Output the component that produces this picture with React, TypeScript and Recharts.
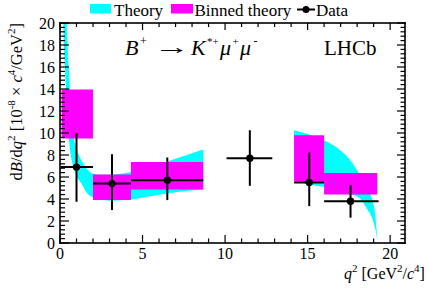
import { Area, ComposedChart, ErrorBar, Scatter, XAxis, YAxis } from "recharts";

// theory band, low q2 region
const lowQ = [0.1, 0.2, 0.3, 0.4, 0.55, 0.7, 0.87, 1.0, 1.3, 1.6, 2.0, 2.5, 3.0, 3.5, 4.3, 5.5, 6.5, 7.5, 8.68];
const lowMin = [30, 20, 16, 12.5, 9.3, 7.6, 6.6, 6.1, 5.4, 4.6, 4.15, 3.95, 3.85, 3.87, 3.96, 4.25, 4.5, 4.7, 4.87];
const lowMax = [50, 32, 24, 20, 15.5, 12, 9.3, 8.6, 7.5, 6.8, 6.3, 6.2, 6.2, 6.25, 6.45, 6.9, 7.4, 7.9, 8.5];

// theory band, high q2 region
const highQ = [14.18, 15, 16, 17, 17.7, 18.2, 18.6, 18.9, 19.1, 19.22];
const highMin = [5.7, 5.35, 5.1, 4.8, 4.4, 4.0, 3.1, 2.3, 1.3, 0.3];
const highMax = [10.25, 9.9, 9.34, 8.4, 7.3, 6.1, 5.0, 4.0, 2.5, 0.35];

// binned theory
const binEdgesLow = [0.1, 2.0, 4.3, 8.68];
const binLoLow = [9.5, 3.9, 4.87];
const binHiLow = [13.95, 6.22, 7.36];
const binEdgesHigh = [14.18, 16.0, 19.22];
const binLoHigh = [5.6, 4.4];
const binHiHigh = [9.8, 6.37];

// data points
const dataQ = [1.0, 3.15, 6.5, 11.5, 15.1, 17.6];
const dataY = [6.9, 5.4, 5.7, 7.7, 5.5, 3.8];
const dataQLo = [0.05, 2.0, 4.3, 10.09, 14.18, 16.0];
const dataQHi = [2.0, 4.3, 8.68, 12.86, 16.0, 19.3];
const dataYLo = [3.75, 3.0, 3.9, 5.2, 3.35, 2.3];
const dataYHi = [10.0, 8.07, 7.77, 10.25, 8.22, 5.26];

const xMajor = [0, 5, 10, 15, 20];
const yMajor = [0, 2, 4, 6, 8, 10, 12, 14, 16, 18, 20];
const xMinor = Array.from({ length: 21 }, (_, i) => i);
const yMinor = Array.from({ length: 51 }, (_, i) => Math.round(i * 4) / 10);

const X_DOMAIN: [number, number] = [0, 20.9];
const Y_DOMAIN: [number, number] = [0, 20];
const FONT = "'Liberation Serif', 'DejaVu Serif', serif";
const CYAN = "#00ffff";
const MAGENTA = "#ff00ff";

const W = 427;
const H = 290;
const MARGIN = { top: 23, right: 22, left: 0, bottom: 17 };
const Y_W = 60;
const X_H = 30;
const PLOT_L = MARGIN.left + Y_W;
const PLOT_T = MARGIN.top;
const PLOT_W = W - MARGIN.left - MARGIN.right - Y_W;
const PLOT_H = H - MARGIN.top - MARGIN.bottom - X_H;

// same linear mapping the axes use, for the frame's tick marks
const sx = (v: number) => PLOT_L + ((v - X_DOMAIN[0]) / (X_DOMAIN[1] - X_DOMAIN[0])) * PLOT_W;
const sy = (v: number) => PLOT_T + ((Y_DOMAIN[1] - v) / (Y_DOMAIN[1] - Y_DOMAIN[0])) * PLOT_H;

const band = (q: number[], lo: number[], hi: number[]) =>
  q.map((v, i) => ({ q: v, r: [lo[i], hi[i]] }));

const bins = (edges: number[], lo: number[], hi: number[]) =>
  edges.map((v, i) => {
    const k = Math.min(i, lo.length - 1);
    return { q: v, r: [lo[k], hi[k]] };
  });

const bandLow = band(lowQ, lowMin, lowMax);
const bandHigh = band(highQ, highMin, highMax);
const binsLow = bins(binEdgesLow, binLoLow, binHiLow);
const binsHigh = bins(binEdgesHigh, binLoHigh, binHiHigh);

const points = dataQ.map((q, i) => ({
  q,
  y: dataY[i],
  ex: [q - dataQLo[i], dataQHi[i] - q],
  ey: [dataY[i] - dataYLo[i], dataYHi[i] - dataY[i]],
}));

const tickText = { fontSize: 16, fill: "#000", fontFamily: FONT };
const isMajor = (v: number, list: number[]) => list.some((m) => Math.abs(m - v) < 1e-6);

function Dot(props: any) {
  return <circle cx={props.cx} cy={props.cy} r={3.7} fill="#000" />;
}

// frame + ticks drawn as filled rectangles
function Frame() {
  const bottom = PLOT_T + PLOT_H;
  const right = PLOT_L + PLOT_W;
  const bw = 1.6;
  return (
    <svg width={W} height={H} style={{ position: "absolute", left: 0, top: 0, pointerEvents: "none" }}>
      <g fill="#000">
        <rect x={PLOT_L - bw / 2} y={PLOT_T - bw / 2} width={PLOT_W + bw} height={bw} />
        <rect x={PLOT_L - bw / 2} y={bottom - bw / 2} width={PLOT_W + bw} height={bw} />
        <rect x={PLOT_L - bw / 2} y={PLOT_T - bw / 2} width={bw} height={PLOT_H + bw} />
        <rect x={right - bw / 2} y={PLOT_T - bw / 2} width={bw} height={PLOT_H + bw} />
        {xMinor.map((v) => {
          const m = isMajor(v, xMajor);
          const x = sx(v) - 0.6;
          const lb = m ? 8 : 4.5;
          const lt = m ? 7 : 4;
          return (
            <g key={"x" + v}>
              <rect x={x} y={bottom - lb} width={1.2} height={lb} />
              <rect x={x} y={PLOT_T} width={1.2} height={lt} />
            </g>
          );
        })}
        {yMinor.map((v) => {
          const m = isMajor(v, yMajor);
          const y = sy(v) - 0.6;
          const ll = m ? 9 : 5;
          const lr = m ? 8 : 4.5;
          return (
            <g key={"y" + v}>
              <rect x={PLOT_L} y={y} width={ll} height={1.2} />
              <rect x={right - lr} y={y} width={lr} height={1.2} />
            </g>
          );
        })}
      </g>
    </svg>
  );
}

function Texts() {
  const sup = (t: string) => (
    <tspan fontSize={11} dy={-7}>
      {t}
    </tspan>
  );
  return (
    <svg
      width={W}
      height={H}
      style={{ position: "absolute", left: 0, top: 0, pointerEvents: "none" }}
      fontFamily={FONT}
    >
      {/* legend */}
      <rect x={90} y={4} width={21} height={9.5} fill={CYAN} />
      <text x={114} y={16} fontSize={17}>Theory</text>
      <rect x={171} y={4} width={22} height={9.5} fill={MAGENTA} />
      <text x={194.5} y={16} fontSize={17}>Binned theory</text>
      <rect x={297} y={8.5} width={18} height={2} fill="#000" />
      <circle cx={306} cy={9.5} r={3.5} fill="#000" />
      <text x={316} y={16} fontSize={17}>Data</text>

      {/* decay */}
      <g fontSize={22}>
        <text x={125} y={55} fontStyle="italic">B</text>
        <text x={140} y={45} fontSize={12}>+</text>
        <text x={157} y={54} textLength={30} lengthAdjust="spacingAndGlyphs"
          transform="translate(172.5,0) scale(1.2,1) translate(-172.5,0)">→</text>
        <text x={191} y={55} fontStyle="italic">K</text>
        <text x={207} y={45} fontSize={11}>*+</text>
        <text x={220} y={55} fontStyle="italic">μ</text>
        <text x={232.5} y={45} fontSize={11}>+</text>
        <text x={240} y={55} fontStyle="italic">μ</text>
        <text x={253.5} y={45} fontSize={12}>-</text>
      </g>
      <text x={324} y={55} fontSize={21}>LHCb</text>

      {/* y title */}
      <text transform="translate(22,23) rotate(-90)" textAnchor="end" fontSize={16.5}>
        d<tspan fontStyle="italic">B</tspan>/d<tspan fontStyle="italic">q</tspan>
        {sup("2")}
        <tspan dy={7}> [10</tspan>
        {sup("-8")}
        <tspan dy={7}> × </tspan>
        <tspan fontStyle="italic">c</tspan>
        {sup("4")}
        <tspan dy={7}>/GeV</tspan>
        {sup("2")}
        <tspan dy={7}>]</tspan>
      </text>

      {/* x title */}
      <text x={344} y={279} fontSize={16}>
        <tspan fontStyle="italic">q</tspan>
        {sup("2")}
        <tspan dy={7}> [GeV</tspan>
        {sup("2")}
        <tspan dy={7}>/</tspan>
        <tspan fontStyle="italic">c</tspan>
        {sup("4")}
        <tspan dy={7}>]</tspan>
      </text>
    </svg>
  );
}

export default function App() {
  return (
    <div style={{ position: "relative", width: W, height: H }}>
      <style>{"body{margin:0}"}</style>
      <Texts />
      <div style={{ position: "absolute", left: 0, top: 0 }}>
        <ComposedChart width={W} height={H} margin={MARGIN}>
          <XAxis
            xAxisId="x"
            dataKey="q"
            type="number"
            domain={X_DOMAIN}
            allowDataOverflow
            ticks={xMajor}
            interval={0}
            height={X_H}
            tickSize={0}
            tickMargin={5}
            tickLine={false}
            axisLine={false}
            tick={tickText}
          />
          <YAxis
            yAxisId="y"
            dataKey="y"
            type="number"
            domain={Y_DOMAIN}
            allowDataOverflow
            ticks={yMajor}
            interval={0}
            width={Y_W}
            tickSize={0}
            tickMargin={5}
            tickLine={false}
            axisLine={false}
            tick={tickText}
          />

          <Area xAxisId="x" yAxisId="y" data={bandLow} dataKey="r" type="monotone" stroke="none"
            fill={CYAN} fillOpacity={1} isAnimationActive={false} />
          <Area xAxisId="x" yAxisId="y" data={bandHigh} dataKey="r" type="monotone" stroke="none"
            fill={CYAN} fillOpacity={1} isAnimationActive={false} />
          <Area xAxisId="x" yAxisId="y" data={binsLow} dataKey="r" type="stepAfter" stroke="none"
            fill={MAGENTA} fillOpacity={1} isAnimationActive={false} />
          <Area xAxisId="x" yAxisId="y" data={binsHigh} dataKey="r" type="stepAfter" stroke="none"
            fill={MAGENTA} fillOpacity={1} isAnimationActive={false} />

          <Scatter xAxisId="x" yAxisId="y" data={points} shape={Dot} isAnimationActive={false}>
            <ErrorBar dataKey="ey" direction="y" width={0} stroke="#000" strokeWidth={2} isAnimationActive={false} />
            <ErrorBar dataKey="ex" direction="x" width={0} stroke="#000" strokeWidth={2} isAnimationActive={false} />
          </Scatter>
        </ComposedChart>
      </div>
      <Frame />
    </div>
  );
}
